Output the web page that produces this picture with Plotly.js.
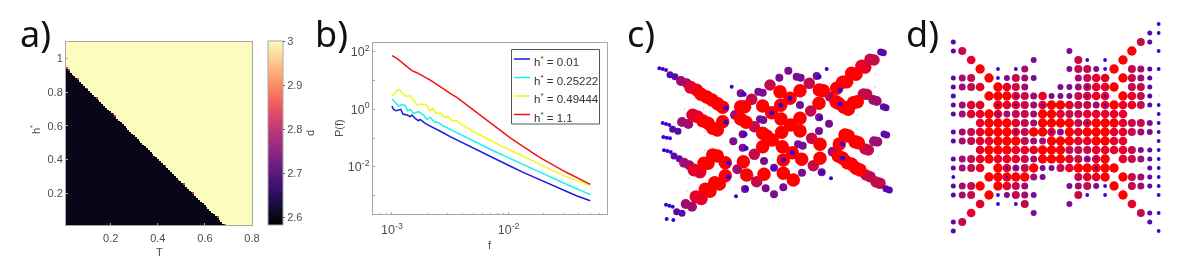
<!DOCTYPE html>
<html><head><meta charset="utf-8">
<script src="https://cdn.plot.ly/plotly-3.0.1.min.js"></script>
<style>html,body{margin:0;padding:0;background:#fff}#g{width:1196px;height:274px;filter:blur(0.4px)}</style>
</head><body><div id="g"></div>
<script>
// ---- panel a: phase map. Number of black cells in each T column, pink boundary columns
const blackRows = [85,84,83,82,81,80,79,78,77,76,75,74,73,72,71,70,69,68,67,66,65,64,63,62,61,60,59,58,57,56,55,54,53,52,51,50,49,48,47,46,45,44,43,42,41,40,39,38,37,36,35,34,33,32,31,30,29,28,27,26,25,24,23,22,21,20,19,18,17,16,15,14,13,12,11,10,9,8,7,6,5,4,3,2,1,0];
const pinkCols = [0,1,6,11,16,25,26,53,63,68,81,85];
const dLow = 2.6, dHigh = 3, dPink = 2.8;
// ---- panel b: spectra, as log10 f and log10 P
const seriesNames = ["0.01","0.25222","0.49444","1.1"];
const seriesColors = ["#1a1ae0","#19f0f0","#f5f516","#f01515"];
const blueLogF = [-3,-2.986,-2.963,-2.943,-2.923,-2.906,-2.872,-2.843,-2.829,-2.801,-2.772,-2.758,-2.715,-2.672,-2.630,-2.573,-2.501,-2.444,-2.387,-2.330,-2.274,-2.217,-2.131,-1.989,-1.875,-1.761,-1.647,-1.533,-1.419,-1.30];
const blueLogP = [.116,0,-.046,-.023,0,-.162,-.197,-.255,-.197,-.313,-.394,-.348,-.487,-.580,-.661,-.788,-.951,-1.067,-1.183,-1.299,-1.414,-1.530,-1.704,-1.971,-2.191,-2.400,-2.609,-2.817,-3.003,-3.177];
const cyanLogF = [-3,-2.972,-2.943,-2.915,-2.886,-2.866,-2.843,-2.815,-2.772,-2.729,-2.701,-2.672,-2.638,-2.601,-2.558,-2.501,-2.444,-2.387,-2.330,-2.274,-2.217,-2.131,-1.989,-1.875,-1.761,-1.647,-1.533,-1.419,-1.30];
const cyanLogP = [.371,.232,.116,.162,.139,-.046,0,-.139,-.081,-.197,-.348,-.278,-.429,-.464,-.580,-.696,-.812,-.916,-1.043,-1.159,-1.275,-1.438,-1.704,-1.925,-2.145,-2.342,-2.551,-2.759,-2.968];
const yellowLogF = [-3,-2.980,-2.957,-2.934,-2.915,-2.886,-2.843,-2.821,-2.786,-2.744,-2.701,-2.678,-2.650,-2.621,-2.587,-2.544,-2.516,-2.487,-2.444,-2.402,-2.359,-2.302,-2.245,-2.188,-2.131,-2.074,-1.989,-1.875,-1.761,-1.647,-1.533,-1.419,-1.30];
const yellowLogP = [.464,.533,.661,.672,.580,.464,.464,.371,.151,.186,.139,-.046,.035,-.139,-.139,-.278,-.255,-.394,-.394,-.533,-.626,-.777,-.893,-1.020,-1.136,-1.252,-1.414,-1.623,-1.855,-2.087,-2.296,-2.470,-2.632];
const redLogF = [-3,-2.957,-2.915,-2.872,-2.829,-2.786,-2.729,-2.672,-2.615,-2.558,-2.501,-2.444,-2.387,-2.330,-2.274,-2.217,-2.160,-2.103,-2.046,-1.989,-1.932,-1.875,-1.818,-1.761,-1.704,-1.647,-1.590,-1.533,-1.476,-1.419,-1.362,-1.30];
const redLogP = [1.867,1.774,1.635,1.484,1.345,1.275,1.159,1.020,.870,.707,.557,.417,.243,.070,-.104,-.278,-.464,-.649,-.812,-.986,-1.136,-1.299,-1.449,-1.600,-1.739,-1.878,-2.006,-2.133,-2.249,-2.365,-2.493,-2.609];
const xMinorTicks = [0.0007,0.0008,0.0009,0.002,0.003,0.004,0.005,0.006,0.007,0.008,0.009,0.02,0.03,0.04,0.05,0.06];
const yDecadeTicks = [0.001,0.1,10];
// ---- panel c: sites (x, y in the panel's own units) and their weight level
const cSites = [
[118,205,2],[128,207,2],[138,210,2],[128,369,2],[138,372,2],[148,375,2],[130,411,2],[140,413,2],[150,415,2],[132,451,2],[142,453,2],[152,456,2],[138,614,2],[148,617,2],[158,620,2],[140,657,2],[160,660,2],
[335,260,2],[620,207,2],[348,589,2],[633,535,2],
[190,285,1],[195,327,1],[250,325,1],[255,407,1],[255,450,1],[205,533,1],[200,573,1],[765,222,1],[765,262,1],[712,345,1],[712,387,1],[775,467,1],[775,508,1],
[150,224,3],[165,230,3],[158,388,3],[174,394,3],[162,468,3],[178,476,3],[170,635,3],[186,640,3],
[505,212,4],[478,233,4],[530,230,4],[542,233,4],[590,228,4],[362,280,4],[415,275,4],[428,278,4],[420,358,4],[430,360,4],[540,315,4],[597,352,4],[627,371,4],[597,393,4],[368,403,4],[340,424,4],[368,443,4],[432,483,4],[534,433,4],[548,437,4],[462,503,4],[546,518,4],[605,517,4],[437,565,4],[462,583,4],[490,562,4],[375,567,4],
[183,243,5],[200,250,5],[186,366,5],[205,372,5],[192,488,5],[208,496,5],[197,612,5],[216,620,5],[345,345,5],[352,508,5],[630,290,5],[638,455,5],[770,303,5],[760,300,5],[772,425,5],[762,424,5],
[395,298,6],[403,380,6],[403,463,6],[410,545,6],[450,255,6],[568,250,6],[575,415,6],[580,497,6],[572,333,6],[762,180,6],[750,178,6],[740,283,6],[730,282,6],[745,450,6],[735,447,6],[750,530,6],[738,525,6],[780,550,6],[768,546,6],
[212,262,7],[230,270,7],[218,345,7],[232,350,7],[222,510,7],[240,516,7],[228,590,7],[244,596,7],[735,202,7],[725,198,7],
[243,283,8],[260,291,8],[248,362,8],[264,370,8],[252,490,8],[264,490,8],[256,568,8],[270,574,8],[276,300,8],[293,311,8],[278,385,8],[292,390,8],[278,465,8],[292,468,8],[284,548,8],[298,552,8],[308,322,8],[308,365,8],[316,488,8],[316,527,8],
[362,320,8],[374,320,8],[362,357,8],[378,367,8],[370,485,8],[380,525,8],[428,318,8],[455,338,8],[482,316,8],[480,275,8],[510,295,8],[540,272,8],[598,270,8],[610,272,8],[597,310,8],[483,357,8],[512,375,8],[540,355,8],[428,400,8],[440,408,8],[457,420,8],[485,397,8],[540,393,8],[600,433,8],[428,440,8],[487,440,8],[517,458,8],[490,480,8],[432,523,8],[490,520,8],[520,540,8],[545,478,8],[600,475,8],
[708,223,8],[695,220,8],[680,245,8],[668,247,8],[650,265,8],[655,310,8],[648,305,8],[685,328,8],[672,322,8],[712,305,8],[700,308,8],[715,428,8],[705,425,8],[685,408,8],[675,405,8],[658,432,8],[668,475,8],[655,468,8],[695,493,8],[682,488,8],[720,510,8],[708,505,8],
[790,158,3],[782,156,3],[798,323,3],[790,320,3],[800,405,3],[792,402,3],[808,570,3],[798,566,3]
];
const cBlueX = [318,318,325,325,372,378,378,375,510,455,482,517,490,462,597,660,660,667,668,602,606];
const cBlueY = [325,367,490,530,283,445,567,403,295,338,316,458,480,503,230,270,312,433,475,354,517];
// ---- panel d: lattice of weight levels, one string per row
const dRows = [
"000000000000000000000002",
"000000000000000000000032",
"300000000000100000000630",
"360000000010140000008002",
"007000000410106202080000",
"000802025010146642806532",
"356082465400005677086531",
"356708765000445677806630",
"300088876574446777087631",
"357708776578876657877632",
"357787566588766777770002",
"000788876588886788876642",
"356788876887587888776542",
"356778886558887788770002",
"000788877788866677776432",
"356787776588876578076532",
"356708756844678888800032",
"200088888540006778086532",
"356808765000045642806532",
"356082465410106202080002",
"000702026010140000007000",
"007000000400100000000632",
"360000000010000000000030",
"300000000000000000000002"];
const dBlueCol = [15,7,15,17,5,7,10,17,5,15,7,11,12,15,16,6,7,16,6];
const dBlueRow = [7,8,8,8,9,9,9,9,10,11,12,12,12,15,15,16,16,16,17];
const levelColors = ["#fff","#c4c4f6","#3a00d8","#5a08a8","#7a0c90","#a00c70","#c40a4c","#e6002a","#ff0000"];
const cSizes = [0,1.5,4,7,8,10,11.5,13,13.5];
const dSizes = [0,1,3.8,5,6,7,8,8.7,9.4];

const W = 1196, H = 274;
const px = (a,b) => [a/W, b/W];
const py = (t,b) => [1-b/H, 1-t/H];
const grey = "#4d4d4d", frame = "#a8a8a8";
const tickFont = {family:"Liberation Sans, Arial, sans-serif", size:11, color:grey};
const logFont = {family:"Liberation Sans, Arial, sans-serif", size:12.5, color:grey};

const nRows = 100, nCols = 100;
const z = [];
for (let r=0; r<nRows; r++) { const row=[]; for (let c=0; c<nCols; c++) {
  const n = c < blackRows.length ? blackRows[c] : 0;
  let v = r < n ? dLow : dHigh;
  if (r === n && pinkCols.includes(c)) v = dPink;
  row.push(v);
} z.push(row); }
const magma = [[0,"#000000"],[0.1,"#140e36"],[0.2,"#3b0f70"],[0.3,"#641a80"],[0.4,"#8c2981"],[0.5,"#b5367a"],[0.6,"#de4968"],[0.7,"#f7705c"],[0.8,"#fe9f6d"],[0.9,"#fecf92"],[1,"#fbfcbd"]];

const traces = [];
traces.push({type:"heatmap", z:z, x0:0.01+0.79/200, dx:0.79/100, y0:0.01+1.09/200, dy:1.09/100, xaxis:"x", yaxis:"y",
  colorscale:magma, zmin:2.582, zmax:3, hoverinfo:"skip",
  colorbar:{x:268/W, xanchor:"left", xpad:0, ypad:0, y:1-41/H, yanchor:"top", len:184/H, lenmode:"fraction", thickness:15, thicknessmode:"pixels",
    tickvals:[2.6,2.7,2.8,2.9,3], ticktext:["2.6","2.7","2.8","2.9","3"], ticks:"outside", ticklen:2, tickcolor:grey, tickfont:tickFont,
    outlinecolor:frame, outlinewidth:1, title:{text:"d", side:"right", font:tickFont}}});
const logSeries = [[blueLogF,blueLogP],[cyanLogF,cyanLogP],[yellowLogF,yellowLogP],[redLogF,redLogP]];
logSeries.forEach((s,i)=>traces.push({type:"scatter", mode:"lines", name:"h* = "+seriesNames[i],
  x:s[0].map(v=>Math.pow(10,v)), y:s[1].map(v=>Math.pow(10,v)), xaxis:"x2", yaxis:"y2", line:{color:seriesColors[i], width:1.5}, showlegend:false}));
traces.push({type:"scatter", mode:"markers", x:cSites.map(s=>s[0]), y:cSites.map(s=>s[1]), xaxis:"x3", yaxis:"y3", showlegend:false,
  marker:{opacity:1, color:cSites.map(s=>levelColors[s[2]]), size:cSites.map(s=>cSizes[s[2]]), line:{width:0}}});
traces.push({type:"scatter", mode:"markers", x:cBlueX, y:cBlueY, xaxis:"x3", yaxis:"y3", showlegend:false, marker:{opacity:1, color:"#3c00d0", size:5, line:{width:0}}});
const dx=[],dy=[],dl=[];
dRows.forEach((row,r)=>row.split("").forEach((ch,c)=>{ if(ch!=="0"){dx.push(c);dy.push(r);dl.push(+ch);} }));
traces.push({type:"scatter", mode:"markers", x:dx, y:dy, xaxis:"x4", yaxis:"y4", showlegend:false,
  marker:{opacity:1, color:dl.map(l=>levelColors[l]), size:dl.map(l=>dSizes[l]), line:{width:0}}});
traces.push({type:"scatter", mode:"markers", x:dBlueCol, y:dBlueRow, xaxis:"x4", yaxis:"y4", showlegend:false, marker:{opacity:1, color:"#3c00d0", size:3, line:{width:0}}});

const boxAxis = {showline:true, mirror:true, linecolor:frame, linewidth:1, ticks:"inside", ticklen:2, tickcolor:frame, showgrid:false, zeroline:false, tickfont:tickFont};
const hiddenAxis = {visible:false, fixedrange:true};
const annotations = [
  ["a)",18],["b)",313],["c)",625],["d)",904]
].map(a=>({text:a[0], x:a[1]/W, y:1-33/H, xref:"paper", yref:"paper", xanchor:"left", yanchor:"middle", showarrow:false, font:{family:"Noto Sans, sans-serif", size:36, color:"#111"}}));
const shapes = [{type:"rect", xref:"paper", yref:"paper", x0:511.5/W, x1:599.5/W, y0:1-124/H, y1:1-49.5/H, line:{color:"#555", width:1}, fillcolor:"#fff", layer:"above"}];
const legendY = [59,77.5,96,114.5];
seriesNames.forEach((n,i)=>{
  shapes.push({type:"line", xref:"paper", yref:"paper", x0:514/W, x1:530/W, y0:1-legendY[i]/H, y1:1-legendY[i]/H, line:{color:seriesColors[i], width:1.5}, layer:"above"});
  annotations.push({text:"h<sup>*</sup> = "+n, x:532/W, y:1-(legendY[i]+2)/H, xref:"paper", yref:"paper", xanchor:"left", yanchor:"middle", showarrow:false, font:{family:tickFont.family, size:11.5, color:"#333"}});
});
const label = (text,x,y,rot) => ({text, x:x/W, y:1-y/H, xref:"paper", yref:"paper", xanchor:"center", yanchor:"middle", showarrow:false, textangle:rot||0, font:tickFont});
annotations.push(label("T",159,252), label("h<sup>*</sup>",35,130,-90), label("f",490,245), label("P(f)",339,128,-90));

const layout = {width:W, height:H, margin:{l:0,r:0,t:0,b:0,autoexpand:false}, paper_bgcolor:"#fff", plot_bgcolor:"#fff", showlegend:false, annotations, shapes,
  xaxis:Object.assign({},boxAxis,{domain:px(66,252), range:[0.01,0.8], anchor:"y", tickvals:[0.2,0.4,0.6,0.8], ticktext:["0.2","0.4","0.6","0.8"], ticklabelstandoff:3}),
  yaxis:Object.assign({},boxAxis,{domain:py(41.5,225), range:[0.01,1.1], anchor:"x", tickvals:[0.2,0.4,0.6,0.8,1], ticktext:["0.2","0.4","0.6","0.8","1"]}),
  xaxis2:Object.assign({},boxAxis,{domain:px(373,607), type:"log", range:[-3.162,-1.157], anchor:"y2", tickvals:[0.001,0.01], ticktext:["10<sup>-3</sup>","10<sup>-2</sup>"], tickfont:logFont, ticklabelstandoff:4,
    minor:{tickmode:"array", tickvals:xMinorTicks, ticks:"inside", ticklen:1.5, tickcolor:frame}}),
  yaxis2:Object.assign({},boxAxis,{domain:py(42.7,214), type:"log", range:[-3.64,2.319], anchor:"x2", tickvals:[0.01,1,100], ticktext:["10<sup>-2</sup>","10<sup>0</sup>","10<sup>2</sup>"], tickfont:logFont,
    minor:{tickmode:"array", tickvals:yDecadeTicks, ticks:"inside", ticklen:1.5, tickcolor:frame}}),
  xaxis3:Object.assign({},hiddenAxis,{domain:px(620,910), range:[0,870], anchor:"y3"}),
  yaxis3:Object.assign({},hiddenAxis,{domain:[0,1], range:[822,0], anchor:"x3"}),
  xaxis4:Object.assign({},hiddenAxis,{domain:px(940,1172), range:[-1.49,24.49], anchor:"y4"}),
  yaxis4:Object.assign({},hiddenAxis,{domain:py(10,245), range:[24.556,-1.556], anchor:"x4"})
};
Plotly.newPlot("g", traces, layout, {staticPlot:true, displayModeBar:false});
</script></body></html>
